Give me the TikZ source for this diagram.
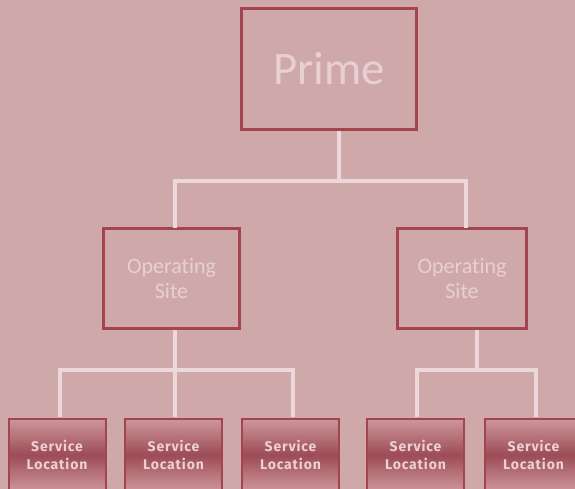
\documentclass[tikz,border=0pt]{standalone}
\usepackage{fontspec}
\setmainfont[Ligatures=NoCommon]{Carlito}
\newfontfamily\svcfont[LetterSpace=6]{Fira Sans}
\definecolor{bg}{RGB}{207,169,170}
\definecolor{bordc}{RGB}{163,68,78}
\definecolor{txtc}{RGB}{232,207,210}
\definecolor{linec}{RGB}{236,216,219}
\definecolor{svtop}{RGB}{206,150,155}
\definecolor{svmid}{RGB}{156,76,86}
\definecolor{svtxt}{RGB}{238,208,212}
\begin{document}
\begin{tikzpicture}[x=0.75pt,y=-0.75pt,
  boxst/.style={draw=bordc,line width=2pt,fill=bg,inner sep=0pt,text=txtc,align=center},
  svcst/.style={draw=bordc,line width=1.5pt,inner sep=0pt,text=svtxt,align=center,
    top color=svtop,bottom color=svtop,middle color=svmid,
    font=\svcfont\bfseries\fontsize{10.5}{14}\selectfont,minimum width=97*0.75pt,minimum height=72*0.75pt},
  conn/.style={draw=linec,line width=3pt}]
\fill[bg] (0,0) rectangle (575,489);
\useasboundingbox (0,0) rectangle (575,489);
% nodes
\node[boxst,minimum width=175*0.75pt,minimum height=121*0.75pt,font=\fontsize{35}{40}\selectfont] (prime) at (329,69) {Prime};
\node[boxst,minimum width=136*0.75pt,minimum height=100*0.75pt,font=\fontsize{16.5}{18.75}\selectfont] (opL) at (171.5,278.5) {Operating\\Site};
\node[boxst,minimum width=129*0.75pt,minimum height=100*0.75pt,font=\fontsize{16.5}{18.75}\selectfont] (opR) at (462,278.5) {Operating\\Site};
\node[svcst] (s1) at (57,455) {Service\\Location};
\node[svcst] (s2) at (173.5,455) {Service\\Location};
\node[svcst] (s3) at (290.5,455) {Service\\Location};
\node[svcst] (s4) at (415.5,455) {Service\\Location};
\node[svcst] (s5) at (533.5,455) {Service\\Location};
% connector junctions
\coordinate (pj) at (339,181);
\coordinate (lj) at (175,370);
\coordinate (rj) at (477,370);
\draw[conn] (pj |- prime.south) -- (pj);
\draw[conn] (175,228) |- (pj) -| (466,228);
\draw[conn] (lj |- opL.south) -- (lj);
\draw[conn] (60,417) |- (lj) -| (293,417);
\draw[conn] (lj) -- (175,417);
\draw[conn] (rj |- opR.south) -- (rj);
\draw[conn] (417,417) |- (rj) -| (536,417);
\end{tikzpicture}
\end{document}
